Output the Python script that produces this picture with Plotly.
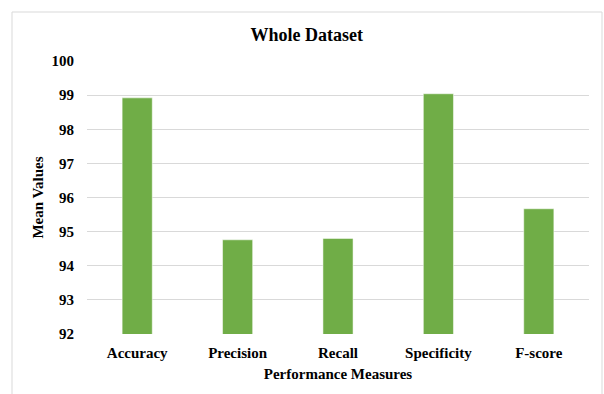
import plotly.graph_objects as go

categories = ["Accuracy", "Precision", "Recall", "Specificity", "F-score"]
mean_values = [98.92, 94.76, 94.80, 99.04, 95.67]
y_ticks = [92, 93, 94, 95, 96, 97, 98, 99, 100]

FONT = "Times New Roman, Liberation Serif, serif"

fig = go.Figure(
    go.Bar(
        x=categories,
        y=mean_values,
        marker=dict(color="#70AD47", line=dict(color="white", width=0.5)),
        width=0.3,
    )
)

fig.update_layout(
    width=604,
    height=394,
    margin=dict(l=87, r=15, t=61, b=60),
    paper_bgcolor="white",
    plot_bgcolor="white",
    showlegend=False,
    font=dict(family=FONT, size=15, color="#000000"),
    title=dict(
        text="<b>Whole Dataset</b>",
        x=0.508, xref="container", xanchor="center",
        y=1 - 35 / 394, yref="container", yanchor="middle",
        font=dict(family=FONT, size=18, color="#000000"),
    ),
    shapes=[
        dict(
            type="rect", xref="paper", yref="paper",
            x0=(12 - 87) / 502, x1=(602 - 87) / 502,
            y0=(334 - 400) / 273, y1=(334 - 12) / 273,
            line=dict(color="#d9d9d9", width=1),
            fillcolor="rgba(0,0,0,0)",
            layer="below",
        )
    ],
)

fig.update_xaxes(
    title=dict(text="<b>Performance Measures</b>", standoff=8,
               font=dict(family=FONT, size=15)),
    tickfont=dict(family=FONT, size=15),
    tickprefix="<b>", ticksuffix="</b>",
    showline=False,
    showgrid=False,
    ticks="",
    ticklabelstandoff=8,
)

fig.update_yaxes(
    range=[92, 100],
    tickvals=y_ticks,
    ticktext=[f"<b>{v}</b>" for v in y_ticks],
    tickfont=dict(family=FONT, size=15),
    title=dict(text="<b>Mean Values</b>", standoff=4,
               font=dict(family=FONT, size=15)),
    showgrid=True,
    gridcolor="#d9d9d9",
    gridwidth=1,
    zeroline=False,
    showline=False,
    ticks="",
    ticklabelstandoff=12,
)

fig.write_html(
    "out.html",
    config={"displayModeBar": False},
    post_script="document.body.style.margin='0px';",
)
